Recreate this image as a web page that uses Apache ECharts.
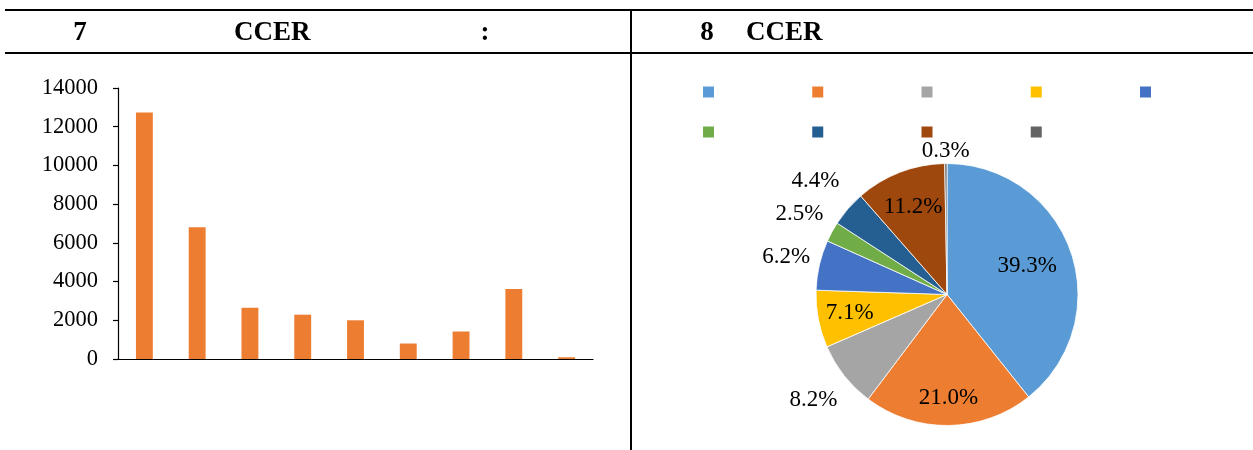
<!DOCTYPE html>
<html>
<head>
<meta charset="utf-8">
<script src="https://cdn.jsdelivr.net/npm/echarts@6/dist/echarts.min.js"></script>
<style>
html,body{margin:0;padding:0;background:#fff;}
#chart{width:1253px;height:450px;}
</style>
</head>
<body>
<div id="chart"></div>
<script>
// ---- data (category names are blank in the reference) ----
var categories = [' ', '  ', '   ', '    ', '     ', '      ', '       ', '        ', '         '];
var values = [12730, 6800, 2650, 2290, 2000, 800, 1420, 3620, 90];
var yTicks = [0, 2000, 4000, 6000, 8000, 10000, 12000, 14000];
var headerLeft = ['7', 'CCER', ':'];
var headerRight = ['8', 'CCER'];

// ---- styling / layout constants ----
var palette = ['#5B9BD5', '#ED7D31', '#A5A5A5', '#FFC000', '#4472C4', '#70AD47', '#255E91', '#9E480E', '#636363'];
var serif = "'Liberation Serif','Times New Roman',serif";
var pieCenter = [947, 294.5];
var pieR = 131;
// distance of each percentage label centre from the pie centre
var labelDist = [85, 103, 170, 99, 165, 168, 174, 94, 144];

var total = values.reduce(function (a, b) { return a + b; }, 0);
function pct(v) { return (v / total * 100).toFixed(1) + '%'; }

var pieData = categories.map(function (c, i) { return { name: c, value: values[i] }; });

var series = [{
  type: 'bar',
  data: values,
  barWidth: '32%',
  itemStyle: { color: '#ED7D31' },
  silent: true
}, {
  type: 'pie',
  center: pieCenter,
  radius: [0, pieR],
  startAngle: 90,
  clockwise: true,
  data: pieData,
  label: { show: false },
  labelLine: { show: false },
  itemStyle: { borderColor: '#fff', borderWidth: 0.8 },
  emphasis: { disabled: true },
  silent: true
}];

// transparent helper pies that only place the percentage labels
labelDist.forEach(function (d, k) {
  series.push({
    type: 'pie',
    center: pieCenter,
    radius: [0, 2 * (d - 3)],
    startAngle: 90,
    clockwise: true,
    avoidLabelOverlap: false,
    silent: true,
    z: 5,
    emphasis: { disabled: true },
    itemStyle: { color: 'rgba(0,0,0,0)', borderWidth: 0 },
    labelLine: { show: false },
    data: pieData.map(function (p, i) {
      return {
        name: p.name, value: p.value,
        label: { show: i === k }
      };
    }),
    label: {
      position: 'inside',
      formatter: function (p) { return pct(p.value); },
      fontFamily: serif,
      fontSize: 23,
      color: '#000'
    }
  });
});

var chart = echarts.init(document.getElementById('chart'), null, { renderer: 'canvas' });

var headerFont = 'bold 27px ' + serif;

function legendRow(names, top) {
  return {
    left: 698,
    top: top,
    orient: 'horizontal',
    itemWidth: 11,
    itemHeight: 11,
    itemGap: 98.25,
    icon: 'rect',
    selectedMode: false,
    data: names,
    itemStyle: { borderWidth: 0 },
    formatter: function () { return ''; },
    textStyle: { fontSize: 8, color: '#000' }
  };
}

chart.setOption({
  backgroundColor: '#fff',
  animation: false,
  color: palette,
  textStyle: { fontFamily: serif },
  grid: { left: 118, right: 660, top: 88, bottom: 91, containLabel: false },
  xAxis: {
    type: 'category',
    data: categories,
    axisLine: { lineStyle: { color: '#000', width: 1.2 } },
    axisTick: { show: false },
    axisLabel: { show: true, fontFamily: serif, fontSize: 18, color: '#000' }
  },
  yAxis: {
    type: 'value',
    min: yTicks[0],
    max: yTicks[yTicks.length - 1],
    interval: yTicks[1] - yTicks[0],
    splitLine: { show: false },
    axisLine: { show: true, lineStyle: { color: '#000', width: 1.2 } },
    axisTick: { show: true, length: 5, lineStyle: { color: '#000', width: 1.2 } },
    axisLabel: { fontFamily: serif, fontSize: 22.5, color: '#000', margin: 20,
      formatter: function (v) { return String(v); } }
  },
  legend: [legendRow(categories.slice(0, 5), 81.5), legendRow(categories.slice(5), 121.5)],
  series: series,
  graphic: [
    { type: 'line', shape: { x1: 5, y1: 10, x2: 1253, y2: 10 }, style: { stroke: '#000', lineWidth: 2 } },
    { type: 'line', shape: { x1: 5, y1: 53, x2: 1253, y2: 53 }, style: { stroke: '#000', lineWidth: 2 } },
    { type: 'line', shape: { x1: 631, y1: 10, x2: 631, y2: 450 }, style: { stroke: '#000', lineWidth: 2 } },
    { type: 'text', x: 80, y: 33, style: { text: headerLeft[0], font: headerFont, fill: '#000', align: 'center', verticalAlign: 'middle' } },
    { type: 'text', x: 234, y: 33, style: { text: headerLeft[1], font: headerFont, fill: '#000', align: 'left', verticalAlign: 'middle' } },
    { type: 'text', x: 485, y: 33, style: { text: headerLeft[2], font: headerFont, fill: '#000', align: 'center', verticalAlign: 'middle' } },
    { type: 'text', x: 707, y: 33, style: { text: headerRight[0], font: headerFont, fill: '#000', align: 'center', verticalAlign: 'middle' } },
    { type: 'text', x: 746, y: 33, style: { text: headerRight[1], font: headerFont, fill: '#000', align: 'left', verticalAlign: 'middle' } }
  ]
});
</script>
</body>
</html>
